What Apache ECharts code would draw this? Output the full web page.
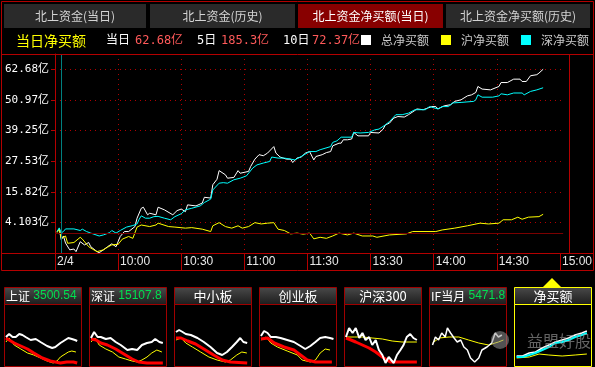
<!DOCTYPE html>
<html><head><meta charset="utf-8">
<style>html,body{margin:0;padding:0;background:#000;}#c{width:595px;height:367px;}</style>
<script src="https://cdn.jsdelivr.net/npm/echarts@6/dist/echarts.min.js"></script>
</head><body><div id="c"></div>
<script>
// ---------- texts ----------
const tabs = ['北上资金(当日)', '北上资金(历史)', '北上资金净买额(当日)', '北上资金净买额(历史)'];
const activeTab = 2;
const chartTitle = '当日净买额';
const summaryLabels = ['当日', '5日', '10日'];
const summaryValues = ['62.68亿', '185.3亿', '72.37亿'];
const seriesNames = ['总净买额', '沪净买额', '深净买额'];
const seriesColors = ['#ffffff', '#ffff00', '#00ffff'];
const xTickMinutes = [0, 30, 60, 90, 120, 150, 180, 210, 240];
const xTickLabels = ['2/4', '10:00', '10:30', '11:00', '11:30', '13:30', '14:00', '14:30', '15:00'];
const yTicks = [4.103, 15.82, 27.53, 39.25, 50.97, 62.68];
const yStep = 11.7159;
const cursorMinute = 3;

// ---------- main series (minutes after 9:30, 亿元) ----------
const totalTime = [1,2,3,4,5,7,9,10,12,14,16,17,20,21,23,25,27,29,31,33,35,38,39,41,42,44,45,48,49,52,56,58,60,62,63,67,70,71,74,75,77,78,81,82,85,87,88,92,93,95,97,99,101,104,105,107,110,112,113,115,117,119,121,123,124,127,129,131,132,135,136,137,139,141,142,144,149,150,154,156,157,159,161,163,166,168,171,172,175,177,179,181,182,185,188,190,193,196,198,200,201,203,207,211,212,215,218,221,222,224,226,229,230,232];
const totalNet  = [0.6,1.6,-2.6,-1.1,-3.8,-6.4,-6.1,-7.1,-3.3,-4.5,-3.6,-5.2,-7.1,-7.5,-6.4,-5.2,-4.1,-5.2,-1.3,0.6,0.6,2.5,5.7,9.5,9.9,7.0,7.6,7.0,9.9,8.9,7.0,8.6,9.2,8.2,10.8,10.4,11.5,13.7,13.4,18.5,20.6,23.9,22.3,21.0,21.3,23.9,22.9,23.6,25.5,28.3,30.0,29.6,30.6,33.1,30.6,29.1,28.3,28.3,27.0,28.7,29.1,30.6,31.2,28.0,29.3,30.0,30.8,31.2,33.4,34.4,34.4,35.7,35.7,36.0,38.5,37.2,37.2,38.5,38.3,39.8,41.4,42.1,44.0,44.6,44.4,45.3,46.9,47.5,47.2,47.8,48.4,48.4,47.5,48.7,49.1,50.4,51.0,52.5,52.9,53.8,56.1,55.1,54.8,56.1,57.6,57.6,58.9,58.9,58.0,58.0,60.2,60.6,61.2,62.68];
const shTime = [1,2,3,5,6,9,12,13,16,18,20,23,25,27,30,32,35,37,39,41,45,48,49,54,57,62,65,70,74,75,78,81,84,87,89,92,95,98,101,104,106,109,112,115,118,121,123,126,129,132,135,139,142,146,151,153,159,167,170,181,184,190,196,202,206,211,213,217,220,222,225,230,232];
const shNet  = [0.2,1.6,-2.0,-1.1,-3.9,-3.6,-1.6,-2.3,-5.2,-6.2,-7.1,-6.4,-5.4,-4.5,-4.3,-2.3,-1.3,-2.0,2.3,3.1,2.5,3.1,3.8,2.5,2.3,1.9,2.1,1.5,0.6,2.8,4.0,2.5,1.9,2.8,1.9,2.5,4.0,3.5,3.8,4.0,1.5,1.0,-0.3,0,-0.4,0,-2.2,-1.6,-2.0,-1.1,0,-0.7,0,-1.1,-1.1,-1.6,-0.7,-0.3,0.6,0.6,1.2,1.9,2.8,3.8,3.5,3.8,5.1,5.1,6.1,5.3,6.1,6.3,7.2];
const szTime = [1,2,3,4,5,9,12,13,15,17,21,23,26,27,29,31,34,37,39,40,41,43,45,47,49,52,55,57,60,62,65,69,71,74,75,78,80,82,85,88,91,94,96,99,102,103,106,109,112,114,117,121,124,126,131,132,134,136,141,142,145,149,152,154,157,159,162,165,168,171,176,178,182,184,187,189,193,199,200,201,203,208,211,212,215,218,222,223,226,229,232];
const szNet  = [0.6,2.0,0.1,0.6,1.6,1.6,1.0,1.5,0.6,0,-1.1,-0.7,0.2,1.0,0,1.0,2.3,2.9,3.5,5.3,6.6,5.7,5.7,6.3,6.4,5.7,5.1,6.3,7.4,8.9,9.5,10.4,11.7,13.0,16.5,19.1,19.3,19.1,20.4,21.0,21.9,24.9,26.1,26.8,27.4,29.1,28.7,28.7,28.3,28.0,29.3,31.2,31.2,31.9,33.1,34.7,35.3,36.7,36.7,38.5,38.3,38.5,39.5,39.8,41.4,42.7,45.3,45.3,45.9,47.2,47.2,48.4,47.5,48.4,48.4,49.8,50.0,50.4,51.0,52.9,52.0,52.0,52.5,53.3,52.9,53.6,53.6,52.9,54.2,54.8,55.6];

// ---------- thumbnails ----------
const thumbTitles = ['上证', '深证', '中小板', '创业板', '沪深300', 'IF当月', '净买额'];
const thumbQuotes = ['3500.54', '15107.80', '', '', '', '5471.8', ''];
// [minute, relative level]
const t1White = [[3,29],[13,32],[24,29],[34,29],[45,32],[55,31],[65,29],[81,26],[97,27],[112,24],[133,20],[149,18],[159,19],[175,23],[190,26],[200,28],[211,27],[221,26],[228,25]];
const t1Yellow = [[3,24],[13,28],[29,21],[50,17],[71,13],[91,11],[112,8],[133,5],[152,3],[164,5],[175,9],[190,12],[200,14],[211,15],[224,14]];
const t1Red = [[3,28],[13,26],[29,23],[50,20],[71,17],[91,13],[118,8],[143,5],[159,4],[175,3],[195,4],[216,4],[228,3]];
const t2White = [[3,28],[13,34],[24,29],[34,29],[50,27],[65,28],[81,24],[97,21],[118,16],[133,17],[149,16],[164,21],[180,23],[195,24],[206,27],[219,24],[230,23]];
const t2Yellow = [[3,24],[16,28],[29,21],[50,17],[71,14],[91,9],[112,7],[133,5],[149,4],[164,6],[180,9],[195,13],[211,16],[227,14]];
const t2Red = [[3,27],[19,26],[34,23],[55,21],[81,17],[107,12],[133,7],[154,4],[180,3],[230,3]];
const t3White = [[3,34],[13,36],[24,34],[34,32],[50,31],[71,28],[91,24],[112,19],[133,13],[149,11],[164,14],[180,19],[195,24],[206,28],[216,24],[228,23]];
const t3Yellow = [[3,26],[19,28],[34,23],[55,19],[81,14],[107,9],[133,6],[159,4],[175,6],[195,11],[211,14],[227,13]];
const t3Red = [[3,28],[19,28],[40,25],[65,22],[91,17],[122,11],[149,6],[175,4],[228,3]];
const t4White = [[3,30],[13,35],[24,33],[34,29],[50,29],[65,28],[86,26],[107,24],[128,20],[143,17],[159,20],[175,24],[190,28],[206,29],[221,28],[232,27]];
const t4Yellow = [[3,26],[19,29],[34,23],[55,19],[86,15],[118,11],[133,6],[159,4],[175,6],[190,13],[206,17],[221,16]];
const t4Red = [[3,27],[24,28],[45,23],[76,19],[107,16],[128,11],[149,6],[175,4],[227,4]];
const t5White = [[3,29],[13,38],[24,33],[34,38],[45,28],[55,33],[65,26],[76,29],[86,21],[97,26],[107,16],[118,11],[128,3],[138,9],[154,3],[164,11],[175,16],[185,21],[195,29],[206,32],[216,28],[227,26]];
const t5Yellow = [[3,29],[29,29],[55,29],[86,28],[118,27],[149,25],[180,24],[227,24]];
const t5Red = [[3,28],[19,26],[34,24],[55,21],[76,18],[97,14],[118,9],[143,4],[169,4],[200,4],[227,4]];
const t6White = [[8,21],[17,29],[27,26],[37,33],[48,29],[55,38],[65,33],[76,28],[86,24],[97,26],[107,19],[118,16],[128,8],[141,4],[154,8],[164,16],[180,19],[195,23],[206,33],[216,29],[227,31]];
const t6Yellow = [[8,23],[29,28],[60,29],[91,29],[122,26],[154,23],[185,21],[216,24],[232,26]];
const t7White = [[5,10],[24,10],[45,13],[65,14],[86,18],[107,21],[128,24],[149,26],[169,28],[190,31],[211,33],[227,35]];
const t7Yellow = [[5,8],[45,9],[76,12],[107,11],[149,10],[190,11],[227,12]];
const t7Cyan = [[5,9],[24,9],[45,11],[65,13],[86,16],[107,19],[128,23],[149,24],[169,26],[190,29],[211,31],[227,33]];

const thumbLines = [
  [[t1Yellow,'#ffff00',1],[t1Red,'#ff0000',3],[t1White,'#ffffff',2]],
  [[t2Yellow,'#ffff00',1],[t2Red,'#ff0000',3],[t2White,'#ffffff',2]],
  [[t3Yellow,'#ffff00',1],[t3Red,'#ff0000',3],[t3White,'#ffffff',2]],
  [[t4Yellow,'#ffff00',1],[t4Red,'#ff0000',3],[t4White,'#ffffff',2]],
  [[t5Yellow,'#ffff00',1],[t5Red,'#ff0000',3],[t5White,'#ffffff',2]],
  [[t6Yellow,'#ffff00',1],[t6White,'#ffffff',1.5]],
  [[t7Yellow,'#ffff00',1],[t7White,'#ffffff',1.5],[t7Cyan,'#00ffff',2]]
];

// ---------- layout ----------
const RED = '#b40000';
const CJK = '"Noto Sans CJK SC", sans-serif';
const MONO = '"DejaVu Sans Mono", "Noto Sans CJK SC", monospace';
const SANS = '"Liberation Sans", Arial, sans-serif';
const tabLefts = [4, 150, 298, 446];
const tabWidths = [142, 145, 145, 144];
const thumbLefts = [4, 89, 174, 259, 344, 429, 514];
const thumbW = 77;

const zip = (t, v) => t.map((x, i) => [x, v[i]]);

const chart = echarts.init(document.getElementById('c'), null, {renderer: 'canvas', width: 595, height: 367});

const gridLine = {show: true, showMinLine: false, showMaxLine: false, lineStyle: {color: '#b00000', type: [1, 4], width: 1}};
const grids = [{left: 55, top: 54, width: 514.5, height: 199}];
const xAxes = [{
  gridIndex: 0, type: 'value', min: 0, max: 241.5, interval: 30,
  axisLine: {show: true, onZero: false, lineStyle: {color: RED, width: 1}},
  axisTick: {show: true, length: 17, lineStyle: {color: RED}, customValues: xTickMinutes},
  axisLabel: {
    show: true, customValues: xTickMinutes, align: 'left', margin: 3, padding: [0, 0, 0, 2],
    color: '#e8e8e8', fontSize: 12, fontFamily: SANS,
    formatter: v => { const i = xTickMinutes.indexOf(Math.round(v)); return (i >= 0 && Math.abs(v - xTickMinutes[i]) < 0.01) ? xTickLabels[i] : ''; }
  },
  splitLine: gridLine
}];
const yAxes = [{
  gridIndex: 0, type: 'value', min: +(yTicks[0] - yStep).toFixed(4), max: 68.52, interval: yStep,
  axisLine: {show: true, onZero: false, lineStyle: {color: RED}},
  axisTick: {show: true, length: 4, lineStyle: {color: RED}},
  axisLabel: {
    show: true, margin: 6, color: '#ffffff', fontSize: 11, fontFamily: MONO,
    formatter: v => { const t = yTicks.find(t => Math.abs(t - v) < 0.01); return t === undefined ? '' : t + '亿'; }
  },
  splitLine: gridLine
}];

const series = [
  {name: seriesNames[0], type: 'line', xAxisIndex: 0, yAxisIndex: 0, data: zip(totalTime, totalNet), showSymbol: false, symbol: 'none',
   lineStyle: {color: seriesColors[0], width: 1}, itemStyle: {color: seriesColors[0]}, z: 3},
  {name: seriesNames[1], type: 'line', xAxisIndex: 0, yAxisIndex: 0, data: zip(shTime, shNet), showSymbol: false, symbol: 'none',
   lineStyle: {color: seriesColors[1], width: 1}, itemStyle: {color: seriesColors[1]}, z: 3,
   markLine: {silent: true, symbol: ['none', 'none'], label: {show: false}, animation: false,
     data: [{yAxis: 0, lineStyle: {color: '#7a0000', type: 'solid', width: 1}},
            {xAxis: cursorMinute, lineStyle: {color: '#008080', type: 'solid', width: 1}}]}},
  {name: seriesNames[2], type: 'line', xAxisIndex: 0, yAxisIndex: 0, data: zip(szTime, szNet), showSymbol: false, symbol: 'none',
   lineStyle: {color: seriesColors[2], width: 1}, itemStyle: {color: seriesColors[2]}, z: 4}
];

thumbLefts.forEach((L, i) => {
  const gi = i + 1;
  grids.push({left: L + 1, top: 305, width: thumbW - 1, height: 61});
  xAxes.push({gridIndex: gi, type: 'value', min: 0, max: 240, show: false});
  yAxes.push({gridIndex: gi, type: 'value', min: 0, max: 61, show: false});
  thumbLines[i].forEach(([d, c, w], k) => {
    series.push({type: 'line', xAxisIndex: gi, yAxisIndex: gi, data: d, showSymbol: false, symbol: 'none',
      lineStyle: {color: c, width: w}, z: 3 + k, silent: true});
  });
});

// ---------- graphics (frames, tabs, headers) ----------
const g = [];
tabs.forEach((t, i) => {
  g.push({type: 'rect', shape: {x: tabLefts[i], y: 4, width: tabWidths[i], height: 24},
    style: {fill: i === activeTab ? '#880000' : '#2a2a2a'}, z: 1});
  g.push({type: 'text', x: tabLefts[i] + tabWidths[i] / 2, y: 16,
    style: {text: t, fill: i === activeTab ? '#ffffff' : '#d4d4d4', font: '12px ' + CJK, align: 'center', verticalAlign: 'middle'}, z: 2});
});
g.push({type: 'rect', shape: {x: 1.5, y: 1.5, width: 592, height: 269}, style: {fill: 'none', stroke: RED, lineWidth: 1}, z: 50});
g.push({type: 'line', shape: {x1: 1, y1: 54.5, x2: 594, y2: 54.5}, style: {stroke: RED, lineWidth: 1}, z: 50});
g.push({type: 'line', shape: {x1: 1, y1: 253.5, x2: 594, y2: 253.5}, style: {stroke: RED, lineWidth: 1}, z: 50});
g.push({type: 'line', shape: {x1: 569.5, y1: 54, x2: 569.5, y2: 253}, style: {stroke: RED, lineWidth: 1}, z: 50});
g.push({type: 'text', x: 16, y: 41, style: {text: chartTitle, fill: '#ffff00', font: '14px ' + CJK, verticalAlign: 'middle'}, z: 10});
const sumLabelX = [106, 197, 283];
const sumValueX = [135, 221, 312];
summaryLabels.forEach((s, i) => {
  g.push({type: 'text', x: sumLabelX[i], y: 41, style: {text: s, fill: '#ffffff', font: '12px ' + MONO, verticalAlign: 'middle'}, z: 10});
  g.push({type: 'text', x: sumValueX[i], y: 41, style: {text: summaryValues[i], fill: '#ff5a5a', font: '12px ' + MONO, verticalAlign: 'middle'}, z: 10});
});
thumbLefts.forEach((L, i) => {
  const stroke = i === 6 ? '#ffff00' : '#a00000';
  g.push({type: 'rect', shape: {x: L + 0.5, y: 287.5, width: thumbW, height: 17},
    style: {fill: new echarts.graphic.LinearGradient(0, 0, 0, 1, [{offset: 0, color: '#4a4a4a'}, {offset: 1, color: '#1c1c1c'}]), stroke: stroke, lineWidth: 1}, z: 20});
  g.push({type: 'rect', shape: {x: L + 0.5, y: 304.5, width: thumbW, height: 62},
    style: {fill: 'none', stroke: stroke, lineWidth: 1}, z: 60});
  if (thumbQuotes[i]) {
    g.push({type: 'text', x: L + 2, y: 296,
      style: {text: '{a|' + thumbTitles[i] + '} {b|' + thumbQuotes[i] + '}', width: thumbW - 2, overflow: 'truncate', ellipsis: '',
        verticalAlign: 'middle', align: 'left',
        rich: {a: {fill: '#ffffff', font: '12px ' + CJK}, b: {fill: '#00e050', font: '12px ' + SANS}}}, z: 21});
  } else {
    g.push({type: 'text', x: L + thumbW / 2 + 0.5, y: 296,
      style: {text: thumbTitles[i], fill: '#ffffff', font: '13px ' + CJK, align: 'center', verticalAlign: 'middle'}, z: 21});
  }
});
g.push({type: 'polygon', shape: {points: [[543, 287], [561, 287], [552, 278]]}, style: {fill: '#ffff00'}, z: 20});
g.push({type: 'circle', shape: {cx: 500, cy: 340, r: 9}, style: {fill: 'rgba(150,150,150,0.55)'}, z: 70});
g.push({type: 'text', x: 527, y: 341, style: {text: '益盟好股', fill: 'rgba(165,165,165,0.6)', font: '16px ' + CJK, verticalAlign: 'middle'}, z: 70});

chart.setOption({
  backgroundColor: '#000000',
  animation: false,
  legend: {
    data: seriesNames, left: 361, top: 34, padding: 0, itemWidth: 10, itemHeight: 10, itemGap: 12, icon: 'rect',
    selectedMode: false, textStyle: {color: '#c8c8c8', fontSize: 12, fontFamily: CJK, padding: [0, 0, 0, 5]}
  },
  grid: grids,
  xAxis: xAxes,
  yAxis: yAxes,
  series: series,
  graphic: g
});
</script></body></html>
